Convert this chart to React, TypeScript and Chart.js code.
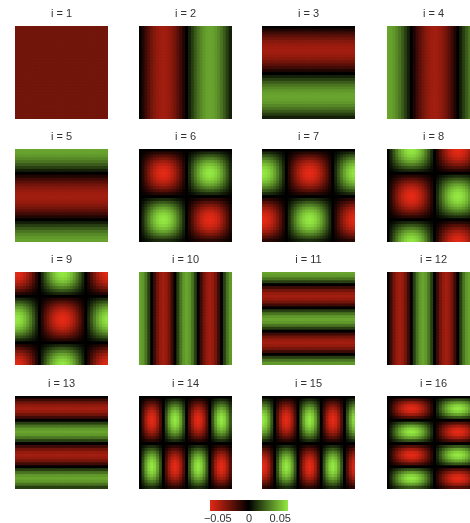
import React, { useEffect, useRef } from "react";
import { Chart, registerables } from "chart.js";

Chart.register(...registerables);

// ---- data ----
const GRID = 32; // cells per side of each basis image
const panelLabels = [
  "i = 1", "i = 2", "i = 3", "i = 4",
  "i = 5", "i = 6", "i = 7", "i = 8",
  "i = 9", "i = 10", "i = 11", "i = 12",
  "i = 13", "i = 14", "i = 15", "i = 16",
];
// Fourier mode of each panel: frequency and kind (cos/sin) along x and y, and overall sign
const freqX = [0, 1, 0, 1, 0, 1, 1, 1, 1, 2, 0, 2, 0, 2, 2, 1];
const kindX = ["c", "s", "c", "c", "c", "s", "c", "s", "c", "c", "c", "s", "c", "s", "c", "s"];
const freqY = [0, 0, 1, 0, 1, 1, 1, 1, 1, 0, 2, 0, 2, 1, 1, 2];
const kindY = ["c", "c", "s", "c", "c", "s", "s", "c", "c", "c", "c", "c", "s", "s", "s", "s"];
const signs = [-1, -1, -1, 1, 1, -1, 1, 1, -1, 1, 1, -1, -1, -1, 1, -1];

const colorLimit = 0.0625;
const colorbarTicks = [-0.05, 0, 0.05];
const colorbarTickLabels = ["\u22120.05", "0", "0.05"];

// ---- styling ----
const RED = [228, 42, 22];
const GREEN = [148, 232, 66];
const FONT = "'Liberation Sans', Arial, Helvetica, sans-serif";
const PANEL = 93;
const TITLE_H = 19;
const colLeft = [15, 139, 262, 387];
const rowTop = [26, 149, 272, 396];

function basis(kind: string, k: number, j: number): number {
  if (k === 0) return 1 / Math.sqrt(GRID);
  const a = (2 * Math.PI * k * j) / GRID;
  return Math.sqrt(2 / GRID) * (kind === "s" ? Math.sin(a) : Math.cos(a));
}

function colorFor(v: number): string {
  let t = v / colorLimit;
  if (t > 1) t = 1;
  if (t < -1) t = -1;
  const base = t < 0 ? RED : GREEN;
  const m = Math.abs(t);
  return `rgb(${Math.round(base[0] * m)},${Math.round(base[1] * m)},${Math.round(base[2] * m)})`;
}

function Panel({ idx }: { idx: number }) {
  const ref = useRef<HTMLCanvasElement | null>(null);
  useEffect(() => {
    const labels = Array.from({ length: GRID }, (_, c) => String(c));
    const datasets: any[] = [];
    for (let d = 0; d < GRID; d++) {
      const row = GRID - 1 - d;
      const by = basis(kindY[idx], freqY[idx], row);
      const colors = labels.map((_, c) =>
        colorFor(signs[idx] * basis(kindX[idx], freqX[idx], c) * by)
      );
      datasets.push({
        data: labels.map(() => 1),
        backgroundColor: colors,
        borderWidth: 0,
        barPercentage: 1,
        categoryPercentage: 1,
        inflateAmount: 0.4,
      });
    }
    const chart = new Chart(ref.current as HTMLCanvasElement, {
      type: "bar",
      data: { labels, datasets },
      options: {
        animation: false,
        responsive: false,
        events: [],
        layout: { padding: 0 },
        plugins: {
          legend: { display: false },
          tooltip: { enabled: false },
          title: {
            display: true,
            text: panelLabels[idx],
            color: "#333",
            font: { family: FONT, size: 11, weight: "normal", lineHeight: 1.2 },
            padding: { top: 0, bottom: TITLE_H - 13.2 },
          },
        },
        scales: {
          x: { display: false, stacked: true },
          y: { display: false, stacked: true, min: 0, max: GRID },
        },
      } as any,
    });
    return () => chart.destroy();
  }, [idx]);
  const col = idx % 4;
  const row = Math.floor(idx / 4);
  return (
    <canvas
      ref={ref}
      width={PANEL}
      height={PANEL + TITLE_H}
      style={{
        position: "absolute",
        left: colLeft[col],
        top: rowTop[row] - TITLE_H,
        width: PANEL,
        height: PANEL + TITLE_H,
      }}
    />
  );
}

function Colorbar() {
  const ref = useRef<HTMLCanvasElement | null>(null);
  useEffect(() => {
    const steps = 78;
    const labels = Array.from({ length: steps }, (_, i) => String(i));
    const colors = labels.map((_, i) =>
      colorFor(-colorLimit + ((i + 0.5) * 2 * colorLimit) / steps)
    );
    const chart = new Chart(ref.current as HTMLCanvasElement, {
      type: "bar",
      data: {
        labels,
        datasets: [
          {
            data: labels.map(() => 1),
            backgroundColor: colors,
            borderWidth: 0,
            barPercentage: 1,
            categoryPercentage: 1,
            inflateAmount: 0.4,
            xAxisID: "x",
          },
        ],
      },
      options: {
        animation: false,
        responsive: false,
        events: [],
        layout: { padding: { left: 30, right: 30, top: 0, bottom: 1 } },
        plugins: {
          legend: { display: false },
          tooltip: { enabled: false },
          title: { display: false },
        },
        scales: {
          x: { display: false },
          xv: {
            type: "linear",
            axis: "x",
            position: "bottom",
            offset: false,
            min: -colorLimit,
            max: colorLimit,
            afterBuildTicks: (s: any) => {
              s.ticks = colorbarTicks.map((v) => ({ value: v }));
            },
            ticks: {
              autoSkip: false,
              maxRotation: 0,
              padding: 1,
              color: "#333",
              font: { family: FONT, size: 11 },
              callback: (_v: any, i: number) => colorbarTickLabels[i],
            },
            grid: { display: false, drawTicks: false, offset: false },
            border: { display: false },
          },
          y: { display: false, min: 0, max: 1 },
        },
      } as any,
    });
    return () => chart.destroy();
  }, []);
  return (
    <canvas
      ref={ref}
      width={138}
      height={23}
      style={{ position: "absolute", left: 180, top: 500, width: 138, height: 23 }}
    />
  );
}

export default function App() {
  return (
    <div
      style={{
        position: "fixed",
        left: 0,
        top: 0,
        width: 470,
        height: 523,
        overflow: "hidden",
        background: "#fff",
      }}
    >
      {panelLabels.map((_, i) => (
        <Panel key={i} idx={i} />
      ))}
      <Colorbar />
    </div>
  );
}
